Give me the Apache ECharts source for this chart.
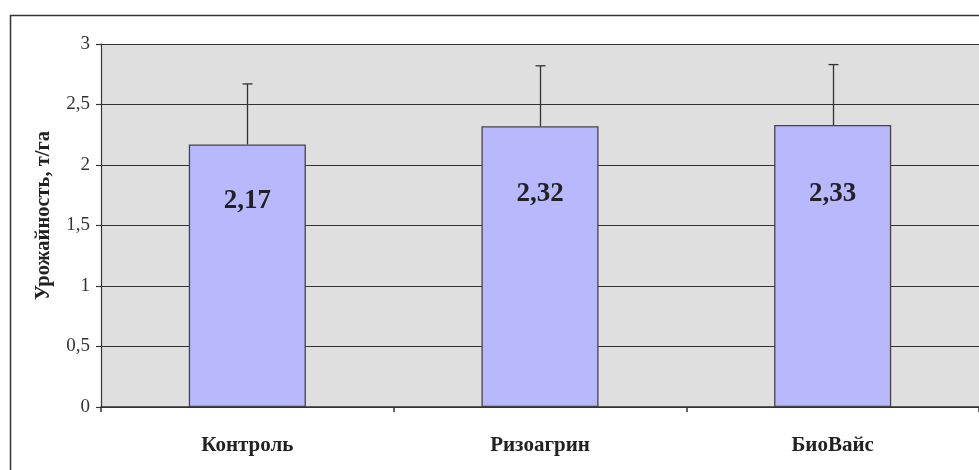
<!DOCTYPE html>
<html><head><meta charset="utf-8">
<script src="https://cdn.jsdelivr.net/npm/echarts@6/dist/echarts.min.js"></script>
<style>html,body{margin:0;padding:0;background:#fff}#c{width:979px;height:470px}</style>
</head><body><div id="c"></div>
<script>
const categories = ['Контроль', 'Ризоагрин', 'БиоВайс'];
const yields = [2.17, 2.32, 2.33];
const errors = [0.5, 0.5, 0.5];
const yTicks = [0, 0.5, 1, 1.5, 2, 2.5, 3];

const labelDistances = [43, 54, 55];
const fmt = v => String(v).replace('.', ',');

const chart = echarts.init(document.getElementById('c'), null, {renderer: 'canvas'});
chart.setOption({
  animation: false,
  backgroundColor: '#fff',
  textStyle: {fontFamily: '"Liberation Serif", "DejaVu Serif", serif'},
  graphic: [{
    type: 'rect', left: 8, top: 13, z: 100, silent: true,
    shape: {x: 8.5, y: 13.5, width: 1000, height: 500},
    style: {fill: 'none', stroke: '#333', lineWidth: 1.5}
  }],
  grid: {left: 101, top: 44, right: -2, bottom: 63, show: true, backgroundColor: '#dfdfdf', borderWidth: 0},
  xAxis: {
    type: 'category', data: categories,
    axisLine: {show: true, lineStyle: {color: '#333', width: 1.5}},
    axisTick: {show: true, alignWithLabel: false, length: 5, lineStyle: {color: '#333', width: 1.5}},
    axisLabel: {fontSize: 21, fontWeight: 'bold', color: '#222', margin: 28, fontFamily: '"Liberation Serif", serif'},
    splitLine: {show: false}
  },
  yAxis: {
    type: 'value', min: yTicks[0], max: yTicks[yTicks.length - 1], interval: 0.5,
    name: 'Урожайность, т/га', nameLocation: 'middle', nameGap: 47, nameRotate: 90,
    nameTextStyle: {fontSize: 20.5, fontWeight: 'bold', color: '#222', fontFamily: '"Liberation Serif", serif', padding: [0, 0, 0, 20]},
    axisLine: {show: true, lineStyle: {color: '#333', width: 1.2}},
    axisTick: {show: true, length: 5, lineStyle: {color: '#333', width: 1.2}},
    axisLabel: {fontSize: 19, color: '#333', margin: 11, formatter: v => fmt(v), fontFamily: '"Liberation Serif", serif'},
    splitLine: {show: true, lineStyle: {color: '#333', width: 1.2}}
  },
  series: [{
    type: 'bar', barWidth: '40%',
    data: yields.map((v, i) => ({value: v, label: {distance: labelDistances[i]}})),
    itemStyle: {color: '#b8b8ff', borderColor: '#444', borderWidth: 1.3},
    label: {show: true, position: 'insideTop', formatter: p => fmt(p.value), fontSize: 27, fontWeight: 'bold', color: '#222', fontFamily: '"Liberation Serif", serif'},
    z: 2
  }, {
    type: 'custom', z: 1,
    data: yields.map((v, i) => [i, v, v + errors[i]]),
    renderItem: (params, api) => {
      const base = api.coord([api.value(0), api.value(1)]);
      const top = api.coord([api.value(0), api.value(2)]);
      const x = Math.round(base[0]) + 0.5;
      return {type: 'group', children: [
        {type: 'line', shape: {x1: x, y1: base[1], x2: x, y2: top[1]}, style: {stroke: '#333', lineWidth: 1.3}},
        {type: 'line', shape: {x1: x - 5, y1: top[1], x2: x + 5, y2: top[1]}, style: {stroke: '#333', lineWidth: 1.3}}
      ]};
    }
  }]
});
</script></body></html>
